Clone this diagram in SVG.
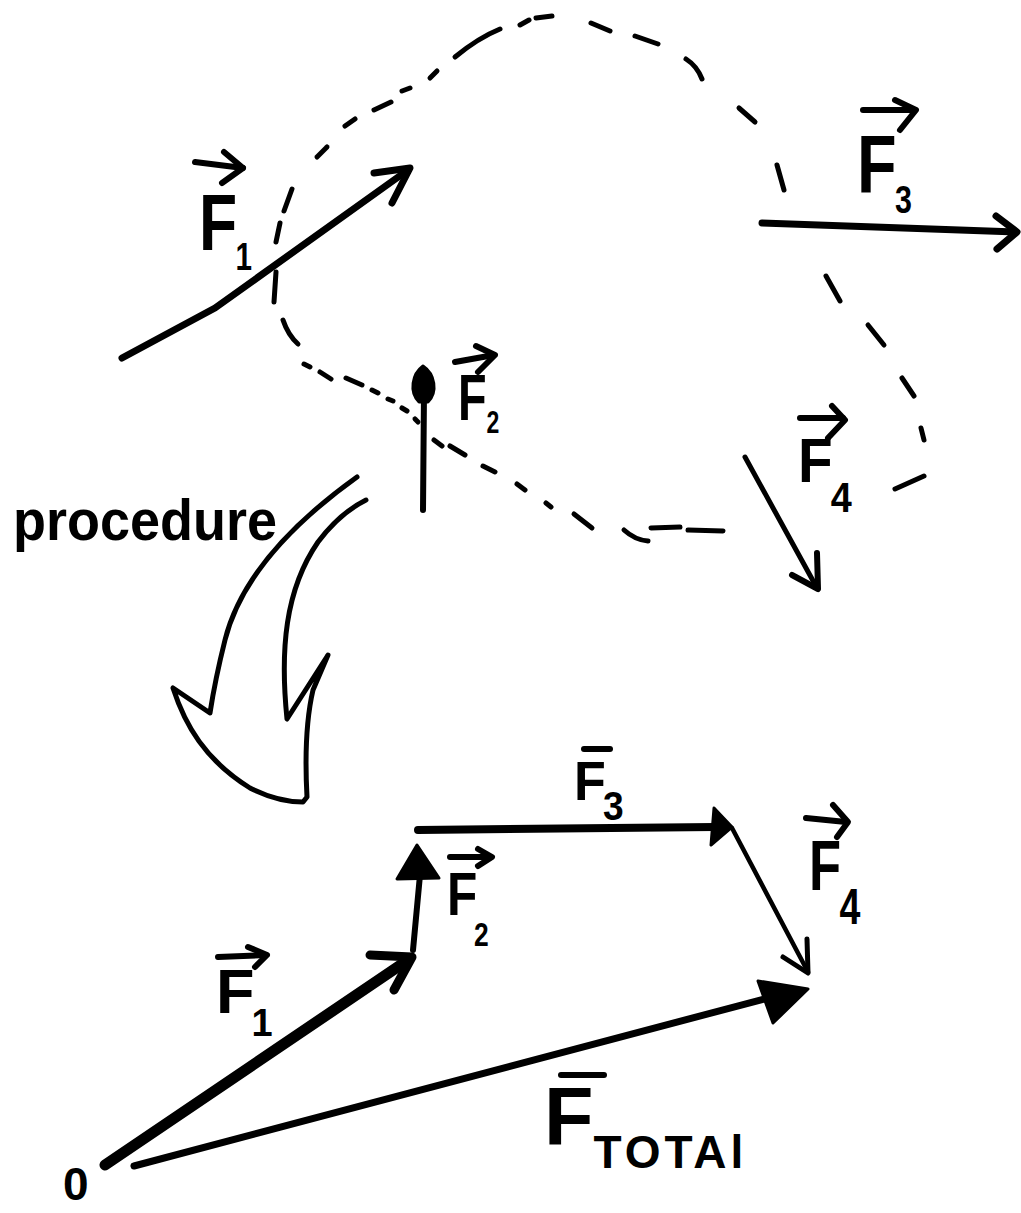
<svg xmlns="http://www.w3.org/2000/svg" width="1021" height="1213" viewBox="0 0 1021 1213">
<style>
.ln{fill:none;stroke:#000;stroke-linecap:round;stroke-linejoin:round}
.dash{fill:none;stroke:#000;stroke-width:5;stroke-linecap:round}
.head{fill:#000;stroke:#000;stroke-width:3;stroke-linejoin:round}
.va{fill:none;stroke:#000;stroke-width:6;stroke-linecap:round;stroke-linejoin:round}
.lbl{font-family:"Liberation Sans",Arial,sans-serif;font-weight:bold;fill:#000}
</style>
<rect width="1021" height="1213" fill="#fff"/>

<g id="connectors">
  <g id="dashed-loop">
    <path class="dash" d="M274,302 L276,272"/>
    <path class="dash" d="M283,320 Q288,335 298,344"/>
    <path class="dash" d="M304,364 L310,367" stroke-width="3"/>
    <path class="dash" d="M320,372 L331,379"/>
    <path class="dash" d="M346,378 L362,385"/>
    <path class="dash" d="M372,390 L378,393" stroke-width="4"/>
    <path class="dash" d="M388,399 L393,401" stroke-width="4"/>
    <path class="dash" d="M402,408 L407,411" stroke-width="4"/>
    <path class="dash" d="M415,419 L418,422" stroke-width="4"/>
    <path class="dash" d="M434,440 L442,446" stroke-width="4"/>
    <path class="dash" d="M450,446 L465,455"/>
    <path class="dash" d="M483,466 L495,472"/>
    <path class="dash" d="M517,484 L525,490"/>
    <path class="dash" d="M546,503 L551,507"/>
    <path class="dash" d="M574,514 L592,528"/>
    <path class="dash" d="M624,530 Q635,540 648,541"/>
    <path class="dash" d="M651,528 L680,527"/>
    <path class="dash" d="M688,530 L723,531"/>
    <path class="dash" d="M895,489 L924,476" stroke-width="6"/>
    <path class="dash" d="M921,428 L924,440"/>
    <path class="dash" d="M902,378 L914,396" stroke-width="6"/>
    <path class="dash" d="M868,325 L884,345"/>
    <path class="dash" d="M826,276 L840,301"/>
    <path class="dash" d="M777,165 L784,190" stroke-width="6"/>
    <path class="dash" d="M739,108 L755,122"/>
    <path class="dash" d="M686,59 Q697,66 702,79"/>
    <path class="dash" d="M635,36 L658,44"/>
    <path class="dash" d="M591,23 L610,31"/>
    <path class="dash" d="M536,18 L552,16" stroke-width="6"/>
    <path class="dash" d="M520,25 L529,20" stroke-width="6"/>
    <path class="dash" d="M455,57 Q478,38 500,29" stroke-width="6"/>
    <path class="dash" d="M430,78 L437,71"/>
    <path class="dash" d="M402,91 L410,88"/>
    <path class="dash" d="M374,110 L391,102"/>
    <path class="dash" d="M345,126 L355,119"/>
    <path class="dash" d="M317,157 L327,147"/>
    <path class="dash" d="M284,211 L292,189"/>
    <path class="dash" d="M276,242 L280,223"/>
  </g>

  <g id="top-F1-arrow">
    <polyline class="ln" stroke-width="7" points="122,358 215,308 408,170"/>
    <polyline class="ln" stroke-width="7" points="374,173 410,168 392,203"/>
  </g>
  <g id="top-F2-arrow">
    <path class="ln" stroke-width="6" d="M423,510 L424,392"/>
    <path class="head" d="M423,366 C435,374 438,392 428,402 L419,402 C409,392 412,374 423,366 Z"/>
  </g>
  <g id="top-F3-arrow">
    <path class="ln" stroke-width="7" d="M762,223 L1016,232"/>
    <polyline class="ln" stroke-width="7" points="996,216 1017,232 997,249"/>
  </g>
  <g id="top-F4-arrow">
    <path class="ln" stroke-width="5" d="M745,457 L817,588"/>
    <polyline class="ln" stroke-width="6" points="792,575 818,589 817,553"/>
  </g>

  <g id="procedure-arrow">
    <path class="ln" stroke-width="5" d="M357,477 C290,525 240,580 225,640 C215,680 212,700 210,713 L173,688 C185,725 205,760 250,788 C270,798 290,802 303,802 L307,797 C305,760 306,720 313,690 L328,655 L287,719 C280,650 285,590 318,542 C333,522 350,508 366,500"/>
  </g>

  <g id="bottom-F1-arrow">
    <path class="ln" stroke-width="11" d="M105,1165 L405,962"/>
    <polyline class="ln" stroke-width="9" points="370,955 412,957 394,990"/>
  </g>
  <g id="bottom-F2-arrow">
    <path class="ln" stroke-width="6" d="M413,950 L420,875"/>
    <polygon class="head" points="417,845 439,878 397,879"/>
  </g>
  <g id="bottom-F3-arrow">
    <path class="ln" stroke-width="8" d="M418,830 L715,827"/>
    <polygon class="head" points="714,808 732,827 711,845"/>
  </g>
  <g id="bottom-F4-arrow">
    <path class="ln" stroke-width="4.5" d="M732,828 L808,972"/>
    <polyline class="ln" stroke-width="5" points="783,957 808,973 807,939"/>
  </g>
  <g id="bottom-Ftotal-arrow">
    <path class="ln" stroke-width="7" d="M134,1166 L783,994"/>
    <polygon class="head" points="808,989 758,981 773,1023"/>
  </g>
</g>

<g id="label-top-F1">
  <polyline class="va" points="195,162 243,168"/>
  <polyline class="va" points="224,152 243,168 222,183"/>
  <text class="lbl" transform="translate(199,250) scale(0.78,1)" font-size="80">F<tspan dx="-2" dy="20" font-size="38">1</tspan></text>
</g>
<g id="label-top-F2">
  <polyline class="va" points="455,362 494,355"/>
  <polyline class="va" points="476,346 495,355 478,372"/>
  <text class="lbl" transform="translate(458,420) scale(0.72,1)" font-size="65">F<tspan dy="13" font-size="32">2</tspan></text>
</g>
<g id="label-top-F3">
  <polyline class="va" points="863,110 915,110"/>
  <polyline class="va" points="895,100 916,110 900,130"/>
  <text class="lbl" transform="translate(857,193) scale(0.8,1)" font-size="81">F<tspan dx="-2" dy="20" font-size="38">3</tspan></text>
</g>
<g id="label-top-F4">
  <polyline class="va" points="800,418 843,418"/>
  <polyline class="va" points="832,406 845,420 828,438"/>
  <text class="lbl" transform="translate(798,482) scale(0.9,1)" font-size="63">F<tspan dx="-2" dy="30" font-size="42">4</tspan></text>
</g>

<g id="label-procedure">
  <text class="lbl" x="13" y="540" font-size="58" textLength="264" lengthAdjust="spacingAndGlyphs">procedure</text>
</g>

<g id="label-bottom-F1">
  <polyline class="va" points="218,957 266,955"/>
  <polyline class="va" points="248,947 267,955 255,967"/>
  <text class="lbl" transform="translate(216,1013)" font-size="63">F<tspan dx="-3" dy="23" font-size="38">1</tspan></text>
</g>
<g id="label-bottom-F2">
  <polyline class="va" points="450,857 490,857"/>
  <polyline class="va" points="478,849 492,857 478,866"/>
  <text class="lbl" transform="translate(447,915) scale(0.8,1)" font-size="62">F<tspan dx="-4" dy="31" font-size="33">2</tspan></text>
</g>
<g id="label-bottom-F3">
  <path class="va" d="M584,749 L610,749"/>
  <text class="lbl" transform="translate(574,800) scale(0.93,1)" font-size="56">F<tspan dx="-3" dy="20" font-size="40">3</tspan></text>
</g>
<g id="label-bottom-F4">
  <polyline class="va" points="806,818 846,822"/>
  <polyline class="va" points="833,805 848,822 837,837"/>
  <text class="lbl" transform="translate(809,890) scale(0.75,1)" font-size="70">F<tspan dx="-2" dy="34" font-size="50">4</tspan></text>
</g>
<g id="label-Ftotal">
  <path class="va" stroke-width="7" d="M561,1075 L604,1075"/>
  <text class="lbl" transform="translate(544,1145)" font-size="81">F<tspan dx="0" dy="23" font-size="46" letter-spacing="4">TOTAl</tspan></text>
</g>
<g id="label-origin">
  <text class="lbl" x="63" y="1200" font-size="46">0</text>
</g>
</svg>
